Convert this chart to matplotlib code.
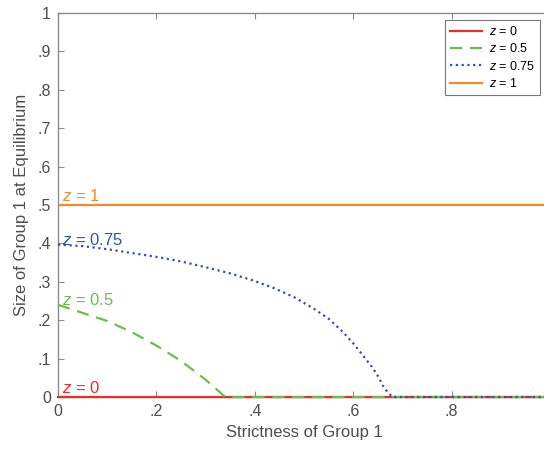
import matplotlib
matplotlib.use("Agg")
import matplotlib.pyplot as plt
import numpy as np

plt.rcParams['font.family'] = ['Liberation Sans', 'DejaVu Sans']
plt.rcParams['mathtext.fontset'] = 'custom'
plt.rcParams['mathtext.it'] = 'Liberation Sans:italic'
plt.rcParams['mathtext.rm'] = 'Liberation Sans'

# Data
x_z0 = [0.0, 1.0]
y_z0 = [0.0, 0.0]
x_z1 = [0.0, 1.0]
y_z1 = [0.5, 0.5]
x_z05 = [0.0, 0.05, 0.1, 0.15, 0.2, 0.25, 0.3, 0.34, 1.0]
y_z05 = [0.240, 0.219, 0.198, 0.169, 0.134, 0.094, 0.045, 0.0, 0.0]
x_z075 = [0.0, 0.05, 0.10, 0.15, 0.20, 0.25, 0.30, 0.35, 0.40, 0.44, 0.48, 0.52,
          0.55, 0.58, 0.60, 0.62, 0.64, 0.65, 0.66, 0.67, 0.68, 1.0]
y_z075 = [0.397, 0.393, 0.385, 0.375, 0.365, 0.353, 0.338, 0.322, 0.302, 0.283,
          0.260, 0.230, 0.204, 0.168, 0.140, 0.108, 0.075, 0.055, 0.030, 0.012, 0.0, 0.0]

xticks = [0, 0.2, 0.4, 0.6, 0.8, 1.0]
xticklabels = ['0', '.2', '.4', '.6', '.8', '']
yticks = [0, 0.1, 0.2, 0.3, 0.4, 0.5, 0.6, 0.7, 0.8, 0.9, 1.0]
yticklabels = ['0', '.1', '.2', '.3', '.4', '.5', '.6', '.7', '.8', '.9', '1']

c_red = '#EE2A2A'
c_green = '#6CBF45'
c_blue = '#3453A6'
c_orange = '#F18A2E'
c_text = '#4D4D4D'
c_spine = '#8C8C8C'

fig = plt.figure(figsize=(5.44, 4.54), dpi=100)
ax = fig.add_axes([58/544, 57/454, 492/544, 384/454])

ax.plot(x_z0, y_z0, color=c_red, lw=1.6, label='$z$ = 0', clip_on=False, zorder=3)
ax.plot(x_z05, y_z05, color=c_green, lw=1.6, ls=(0, (5.5, 3.5)), label='$z$ = 0.5', clip_on=False, zorder=4)
ax.plot(x_z075, y_z075, color=c_blue, lw=1.6, ls=(0, (1, 1.6)), label='$z$ = 0.75', clip_on=False, zorder=5)
ax.plot(x_z1, y_z1, color=c_orange, lw=1.6, label='$z$ = 1', zorder=3)

ax.set_xlim(0, 1)
ax.set_ylim(0, 1)
ax.set_xticks(xticks)
ax.set_xticklabels(xticklabels)
ax.set_yticks(yticks)
ax.set_yticklabels(yticklabels)
ax.tick_params(direction='in', length=4, width=0.8, color=c_spine, labelcolor=c_text,
               labelsize=11.5, top=True, right=True, pad=5)
for s in ax.spines.values():
    s.set_color(c_spine)
    s.set_linewidth(1.0)

ax.set_xlabel('Strictness of Group 1', fontsize=12, color=c_text, labelpad=4)
ax.set_ylabel('Size of Group 1 at Equilibrium', fontsize=12, color=c_text, labelpad=6)

ax.text(0.008, 0.503, '$z$ = 1', color=c_orange, fontsize=12, va='bottom', ha='left')
ax.text(0.008, 0.388, '$z$ = 0.75', color=c_blue, fontsize=12, va='bottom', ha='left')
ax.text(0.008, 0.232, '$z$ = 0.5', color=c_green, fontsize=12, va='bottom', ha='left')
ax.text(0.008, 0.003, '$z$ = 0', color=c_red, fontsize=12, va='bottom', ha='left')

leg = ax.legend(loc='upper right', bbox_to_anchor=(540/544, 434/454), bbox_transform=fig.transFigure,
                fontsize=9, frameon=True, fancybox=False, handlelength=2.6,
                borderpad=0.4, labelspacing=0.35, handletextpad=0.5, borderaxespad=0)
leg.get_frame().set_edgecolor('#555555')
leg.get_frame().set_linewidth(0.8)

fig.savefig('out.png', dpi=100)
